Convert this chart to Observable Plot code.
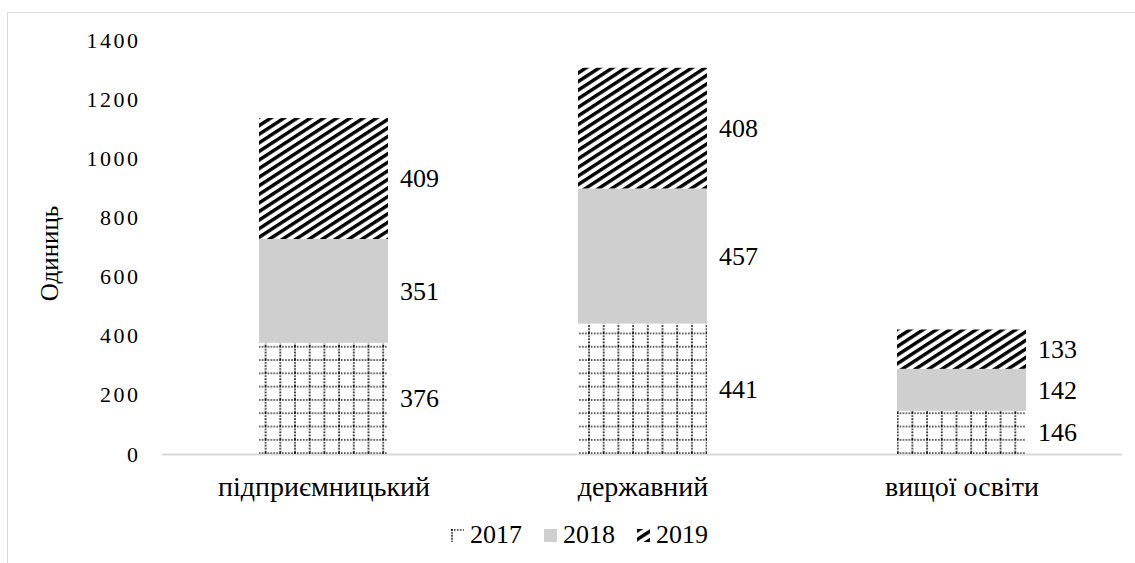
<!DOCTYPE html>
<html>
<head>
<meta charset="utf-8">
<script src="https://cdn.jsdelivr.net/npm/d3@7"></script>
<script src="https://cdn.jsdelivr.net/npm/@observablehq/plot@0.6"></script>
<style>
  body { margin: 0; padding: 0; background: #fff; overflow: hidden; font-family: 'Liberation Serif', serif; }
  .frame { position: absolute; left: 7px; top: 12px; width: 1300px; height: 700px; border: 1px solid #d9d9d9; box-sizing: border-box; pointer-events: none; }
  .chart { position: absolute; left: 0; top: 0; }
  .legend { position: absolute; left: 0; top: 520px; width: 1135px; display: flex; justify-content: center; align-items: center; font-size: 26px; color: #000; padding-left: 24px; box-sizing: border-box; font-family: 'Liberation Serif', serif; }
  .item { display: flex; align-items: center; margin: 0 11px; }
  .item svg { margin-right: 6px; }
</style>
</head>
<body>
<div class="frame"></div>
<div class="chart" id="chart"></div>
<div class="legend" id="legend" style="font-family:'Liberation Serif'"></div>
<script>
const categories = ["підприємницький", "державний", "вищої освіти"];
const years = ["2017", "2018", "2019"];
const values2017 = [376, 441, 146];
const values2018 = [351, 457, 142];
const values2019 = [409, 408, 133];
const yTicks = [0, 200, 400, 600, 800, 1000, 1200, 1400];
const yLabel = "Одиниць";

const fills = {"2017": "url(#p2017)", "2018": "#cfcfcf", "2019": "url(#p2019)"};
const seriesValues = {"2017": values2017, "2018": values2018, "2019": values2019};
const data = [];
for (const yr of years) {
  categories.forEach((c, i) => data.push({category: c, year: yr, value: seriesValues[yr][i]}));
}

const plot = Plot.plot({
  width: 1135,
  height: 510,
  marginTop: 40,
  marginBottom: 56,
  marginLeft: 162,
  marginRight: 13,
  style: "font-family:'Liberation Serif';color:#000;background:transparent;overflow:visible",
  x: {domain: categories, paddingInner: 0.596, paddingOuter: 0.3, axis: null},
  y: {domain: [0, 1400], axis: null},
  color: {type: "identity"},
  marks: [
    Plot.ruleY([0], {stroke: "#d9d9d9", strokeWidth: 2}),
    Plot.barY(data, Plot.stackY({x: "category", y: "value", z: "year", fill: d => fills[d.year], order: years})),
    Plot.text(data, Plot.stackY({x: "category", y: "value", z: "year", text: d => String(d.value), order: years, textAnchor: "start", dx: 76, fontSize: 26, fill: "#000"})),
    Plot.axisY({ticks: yTicks, tickSize: 0, tickPadding: 22, fontSize: 22, label: null, tickFormat: d => String(d), className: "ytick"}),
    Plot.axisX({tickSize: 0, tickPadding: 22, fontSize: 28, label: null}),
    Plot.text([yLabel], {frameAnchor: "left", textAnchor: "middle", rotate: -90, dx: -113, dy: 6, fontSize: 25, fill: "#000"})
  ]
});

const svg = d3.select(plot);
svg.attr("font-family", "Liberation Serif");
svg.selectAll("g").attr("font-family", "Liberation Serif");
svg.selectAll("text").attr("font-family", "Liberation Serif").style("font-family", "'Liberation Serif'");
svg.selectAll(".ytick text").style("letter-spacing", "2.5px");

// pattern definitions
const defs = svg.insert("defs", ":first-child");
const p17 = defs.append("pattern").attr("id", "p2017").attr("patternUnits", "userSpaceOnUse")
  .attr("width", 14.7).attr("height", 13.3);
p17.append("rect").attr("width", 14.7).attr("height", 13.3).attr("fill", "#fff");
p17.append("line").attr("x1", 0).attr("y1", 1).attr("x2", 14.7).attr("y2", 1)
  .attr("stroke", "#000").attr("stroke-width", 1.4).attr("stroke-dasharray", "1.4,1.6");
p17.append("line").attr("x1", 1).attr("y1", 0).attr("x2", 1).attr("y2", 13.3)
  .attr("stroke", "#000").attr("stroke-width", 1.6).attr("stroke-dasharray", "1.6,1.4");
const p19 = defs.append("pattern").attr("id", "p2019").attr("patternUnits", "userSpaceOnUse")
  .attr("width", 7.2).attr("height", 7.2).attr("patternTransform", "rotate(-33)");
p19.append("rect").attr("width", 7.2).attr("height", 7.2).attr("fill", "#fff");
p19.append("rect").attr("x", 0).attr("y", 0).attr("width", 7.2).attr("height", 3.4).attr("fill", "#000");

document.getElementById("chart").appendChild(plot);

// legend
const legend = d3.select("#legend");
for (const yr of years) {
  const item = legend.append("div").attr("class", "item");
  const s = item.append("svg").attr("width", 13).attr("height", 13);
  s.append("rect").attr("width", 13).attr("height", 13).attr("fill", fills[yr]);
  item.append("span").style("font-family", "'Liberation Serif'").text(yr);
}
</script>
</body>
</html>
